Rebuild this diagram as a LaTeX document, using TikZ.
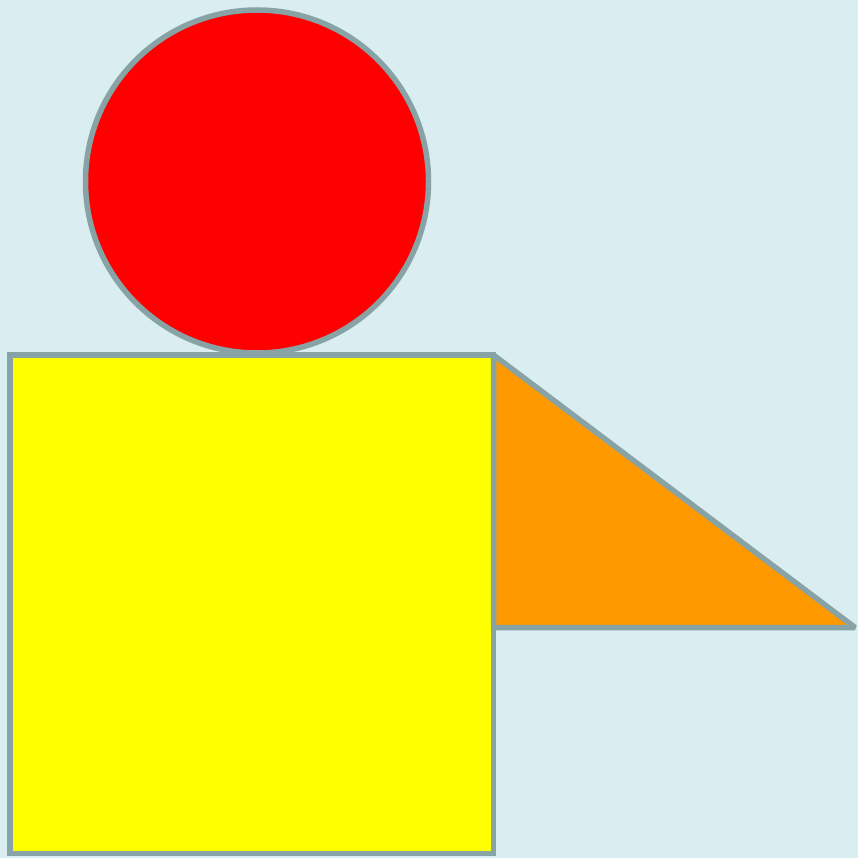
\documentclass[tikz,border=0pt]{standalone}
\usepackage{tikz}

\definecolor{bgcyan}{HTML}{DAEDF0}
\definecolor{edgegray}{HTML}{87A3A6}
\definecolor{triorange}{HTML}{FF9900}
\definecolor{bodyyellow}{HTML}{FFFF00}
\definecolor{headred}{HTML}{FF0000}

\begin{document}
\begin{tikzpicture}[
    x=1pt, y=-1pt,
    part/.style={draw=edgegray, line width=5.5pt, line join=miter},
]

% =============================================================================
% Canvas
% =============================================================================
\fill[bgcyan] (0, 0) rectangle (858, 858);
\useasboundingbox (0, 0) rectangle (858, 858);

% --- Head (circle) ---
\filldraw[part, fill=headred] (257, 181.5) circle (171.5);

% --- Body (square) ---
\filldraw[part, fill=bodyyellow] (10, 355) rectangle (493.5, 853.5);

% --- Arm (triangle) ---
\coordinate (T1) at (493.5, 355);
\coordinate (T2) at (855, 627.5);
\coordinate (T3) at (493.5, 627.5);
\filldraw[part, fill=triorange, line join=bevel] (T1) -- (T2) -- (T3) -- cycle;

\end{tikzpicture}
\end{document}
